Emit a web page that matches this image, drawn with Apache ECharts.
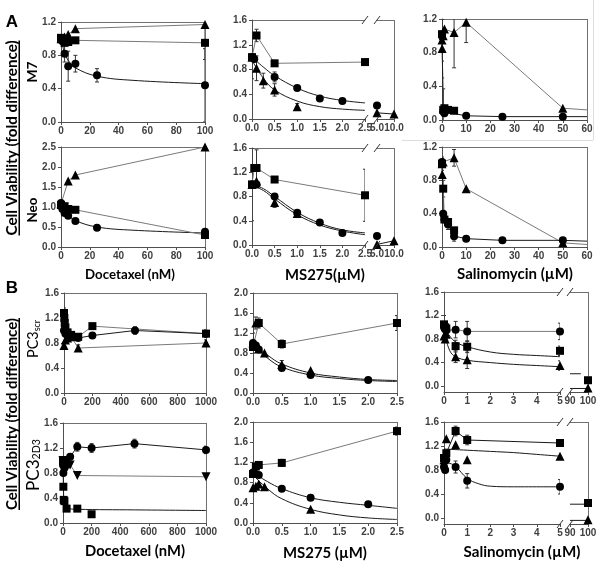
<!DOCTYPE html>
<html><head><meta charset="utf-8">
<script src="https://cdn.jsdelivr.net/npm/echarts@6/dist/echarts.min.js"></script>
<style>html,body{margin:0;padding:0;background:#fff}#c{width:600px;height:565px}</style>
</head><body><div id="c"></div><script>
// ---------- DATA ----------
// Panel A, M7 / Docetaxel
const a1Tri = [[0,1.0],[1,1.0],[2.5,1.02],[5,1.05],[10,1.12],[100,1.17]];
const a1Sq  = [[0,1.01],[1,1.0],[2.5,0.95],[5,0.96],[10,0.98],[100,0.95]];
const a1Ci  = [[0,1.0],[1,0.97],[2.5,0.82],[5,0.67],[10,0.70],[25,0.56],[100,0.44]];
const a1CiFit = [[0,1.0],[2.5,0.83],[5,0.74],[10,0.65],[25,0.55],[50,0.5],[100,0.46]];
const a1Err = [[2.5,0.82,0.1],[5,0.67,0.18],[10,0.70,0.1],[25,0.56,0.08],[100,0.44,0.44],[100,0.95,0.2]];
// Neo / Docetaxel
const a2Tri = [[0,1.08],[1,1.05],[5,1.65],[10,1.8],[100,2.5]];
const a2Sq  = [[0,1.05],[2.5,1.02],[5,0.95],[10,0.93],[100,0.3]];
const a2Ci  = [[0,1.1],[1,0.95],[2.5,0.85],[5,0.78],[10,0.65],[25,0.48],[100,0.38]];
const a2CiFit = [[0,1.05],[5,0.8],[10,0.66],[25,0.5],[50,0.42],[100,0.35]];
const a2Err = [[2.5,0.85,0.05],[5,0.78,0.05],[10,0.65,0.06],[100,0.38,0.05]];
// M7 / MS275
const a3Sq  = [[0,1.0],[0.1,1.35],[0.5,0.9],[2.5,0.92]];
const a3Ci  = [[0,1.0],[0.05,0.97],[0.5,0.68],[1.0,0.5],[1.5,0.33],[2.0,0.29]];
const a3CiFit = [[0,1.0],[0.25,0.84],[0.5,0.7],[1.0,0.5],[1.5,0.37],[2.0,0.3],[2.5,0.26]];
const a3Tri = [[0,1.0],[0.1,0.82],[0.25,0.62],[0.5,0.47],[1.0,0.2]];
const a3TriFit = [[0,0.95],[0.25,0.66],[0.5,0.47],[1.0,0.29],[1.5,0.2],[2.0,0.16],[2.5,0.14]];
const a3Err = [[0,1.0,0.35],[0.1,0.82,0.2],[0.25,0.62,0.12],[0.5,0.47,0.1],[0.1,1.35,0.1],[0.5,0.68,0.08],[1.0,0.2,0.05]];
const a3rCi = [[5,0.22]];
const a3rTri = [[5,0.1],[10,0.08]];
// Neo / MS275
const a4Sq  = [[0,1.0],[0.05,1.27],[0.1,1.27],[0.5,1.08],[2.5,0.82]];
const a4Ci  = [[0,1.0],[0.1,1.0],[0.5,0.8],[1.0,0.53],[1.5,0.37],[2.0,0.2]];
const a4CiFit = [[0,1.0],[0.25,0.93],[0.5,0.8],[1.0,0.54],[1.5,0.36],[2.0,0.25],[2.5,0.2]];
const a4Tri = [[0,1.0],[0.1,1.05],[0.5,0.7],[1.0,0.52]];
const a4TriFit = [[0,0.98],[0.25,0.9],[0.5,0.76],[1.0,0.5],[1.5,0.33],[2.0,0.23],[2.5,0.17]];
const a4Err = [[0,1.0,0.6],[0.1,1.27,0.3],[2.5,0.82,0.43],[0.5,0.7,0.08],[0.5,1.08,0.04]];
const a4rCi = [[5,0.15]];
const a4rTri = [[5,0.01],[10,0.07]];
// M7 / Salinomycin
const a5Tri = [[0,0.95],[0.05,0.85],[0.5,1.0],[1,1.08],[5,1.04],[10,1.16],[50,0.14]];
const a5TriTail = [[50,0.14],[60,0.12]];
const a5Sq  = [[0,1.02],[0.5,0.12],[1,0.14],[2.5,0.12],[5,0.11]];
const a5Ci  = [[0,1.0],[0.5,0.1],[1,0.08],[10,0.05],[25,0.04],[50,0.04]];
const a5CiTail = [[50,0.04],[60,0.04]];
const a5Err = [[5,1.04,0.42],[10,1.16,0.24],[0,0.95,0.25],[0.05,0.85,0.35],[0.5,0.12,0.25]];
// Neo / Salinomycin
const a6Tri = [[0,1.0],[0.1,0.87],[0.5,1.02],[5,1.07],[10,0.7],[50,0.05]];
const a6TriTail = [[50,0.05],[60,0.03]];
const a6Sq  = [[0,1.0],[0.5,0.7],[1,0.33],[2.5,0.3],[5,0.2]];
const a6Ci  = [[0,1.02],[0.5,0.4],[1,0.33],[2.5,0.27],[5,0.13],[10,0.1],[25,0.08],[50,0.08]];
const a6CiTail = [[50,0.08],[60,0.07]];
const a6Err = [[5,1.07,0.1],[5,0.13,0.06],[0.5,0.7,0.1],[2.5,0.27,0.06],[0,1.0,0.08]];
// Panel B, PC3scr / Docetaxel
const b1Sq  = [[0,1.28],[2.5,1.2],[5,1.12],[10,1.05],[25,0.97],[50,0.93],[100,0.9],[200,1.07],[1000,0.95]];
const b1Ci  = [[0,1.0],[5,1.0],[10,0.95],[25,0.92],[50,0.92],[100,0.88],[200,0.92],[500,1.0],[1000,0.95]];
const b1Tri = [[0,0.76],[10,0.85],[25,0.88],[50,0.9],[100,0.72],[1000,0.8]];
const b1Err = [[0,1.28,0.08],[100,0.72,0.05],[500,1.0,0.06],[1000,0.8,0.05],[1000,0.95,0.06],[10,1.1,0.1]];
// PC3 2D3 / Docetaxel
const b2Ci  = [[0,0.93],[2.5,0.8],[5,0.98],[10,0.88],[25,0.93],[50,1.06],[100,1.22],[200,1.2],[500,1.27],[1000,1.17]];
const b2Inv = [[0,1.0],[10,0.98],[25,0.97],[50,0.93],[100,0.76],[1000,0.74]];
const b2Sq  = [[0,1.0],[2.5,0.58],[5,0.37],[10,0.35],[25,0.23],[100,0.23],[200,0.14]];
const b2SqFit = [[0,1.0],[5,0.4],[10,0.3],[25,0.24],[100,0.22],[500,0.21],[1000,0.2]];
const b2Err = [[100,1.22,0.07],[200,1.2,0.07],[500,1.27,0.07],[1000,1.17,0.06],[50,1.06,0.05],[0,0.93,0.12]];
// PC3scr / MS275
const b3Sq  = [[0,0.92],[0.1,1.4],[0.5,0.98],[2.5,1.4]];
const b3Tri = [[0,1.0],[0.05,1.4],[0.1,0.88],[0.2,0.8],[0.5,0.57],[1.0,0.45]];
const b3TriFit = [[0,1.0],[0.25,0.76],[0.5,0.58],[1.0,0.4],[1.5,0.32],[2.0,0.27],[2.5,0.25]];
const b3Ci  = [[0,1.0],[0.05,0.95],[0.1,0.87],[0.5,0.5],[1.0,0.36],[2.0,0.26]];
const b3CiFit = [[0,0.97],[0.25,0.7],[0.5,0.52],[1.0,0.36],[1.5,0.29],[2.0,0.25],[2.5,0.23]];
const b3Err = [[0,1.0,0.2],[0.05,1.4,0.12],[0.1,1.4,0.1],[0.5,0.98,0.08],[2.5,1.4,0.15],[0.5,0.57,0.08]];
// PC3 2D3 / MS275
const b4Sq  = [[0,0.97],[0.05,1.12],[0.1,1.15],[0.5,1.19],[2.5,1.82]];
const b4Ci  = [[0,1.0],[0.05,0.97],[0.1,0.95],[0.5,0.68],[1.0,0.5],[2.0,0.37]];
const b4CiFit = [[0,1.0],[0.25,0.82],[0.5,0.68],[1.0,0.5],[1.5,0.41],[2.0,0.35],[2.5,0.29]];
const b4Tri = [[0,0.7],[0.05,0.73],[0.1,0.77],[0.2,0.72],[1.0,0.27]];
const b4TriFit = [[0,0.95],[0.25,0.68],[0.5,0.48],[1.0,0.27],[1.5,0.16],[2.0,0.1],[2.5,0.07]];
const b4Err = [[0.5,1.19,0.07],[2.5,1.82,0.08],[1.0,0.5,0.05],[0,1.0,0.1]];
// PC3scr / Salinomycin
const b5Ci  = [[0,1.0],[0.05,0.97],[0.1,0.95],[0.5,0.96],[1,0.93],[5,0.93]];
const b5Sq  = [[0,1.05],[0.05,1.0],[0.1,0.98],[0.5,0.68],[1,0.67],[5,0.6]];
const b5SqFit = [[0,1.0],[0.25,0.85],[0.5,0.75],[1,0.67],[2,0.58],[3,0.54],[4,0.52],[5,0.5]];
const b5Tri = [[0,0.85],[0.05,0.8],[0.1,0.88],[0.5,0.5],[1,0.45],[5,0.35]];
const b5TriFit = [[0,0.93],[0.25,0.6],[0.5,0.5],[1,0.44],[2,0.4],[3,0.37],[4,0.35],[5,0.33]];
const b5Err = [[0.5,0.96,0.14],[1,0.93,0.17],[5,0.93,0.14],[0.5,0.68,0.1],[1,0.67,0.1],[5,0.6,0.08],[0.5,0.5,0.1],[1,0.45,0.15],[5,0.35,0.08],[0,1.05,0.15]];
const b5rSq = [[100,0.1]];
const b5rSqFit = [[90,0.21],[96,0.21]];
const b5rTri = [[100,-0.03]];
const b5rTriFit = [[90,-0.04],[100,-0.04]];
// PC3 2D3 / Salinomycin
const b6Sq  = [[0,1.0],[0.1,1.08],[0.5,1.45],[1,1.3],[5,1.25]];
const b6Tri = [[0,0.97],[0.1,1.32],[0.5,1.22],[1,0.97],[5,1.03]];
const b6TriFit = [[0,1.15],[1,1.13],[2,1.11],[3,1.09],[4,1.06],[5,1.03]];
const b6Ci  = [[0,0.85],[0.05,0.8],[0.1,0.97],[0.5,0.85],[1,0.62],[5,0.52]];
const b6CiFit = [[0,0.92],[0.25,0.91],[0.5,0.86],[1,0.66],[1.5,0.57],[2,0.53],[3,0.52],[5,0.52]];
const b6Err = [[0.5,1.45,0.08],[1,1.3,0.08],[0.5,0.85,0.1],[1,0.62,0.12],[5,0.52,0.12]];
const b6rSq = [[100,0.25]];
const b6rSqFit = [[90,0.23],[99,0.23]];
const b6rTri = [[100,-0.03]];
const b6rTriFit = [[90,-0.04],[100,-0.04]];
// tick labels for broken / custom axes
const xTicksMsRight = [5, 10];
const xTicksSalRight = [90, 100];
const yTicksSalB = [0, 0.4, 0.8, 1.2, 1.6];

// ---------- LAYOUT ----------
const L = [
 {g:[61,22,144,100],  x:[0,100,20,0],   y:[0,1.2,0.4,1]},
 {g:[61,147,144,100], x:[0,100,20,0],   y:[0,2.5,0.5,1]},
 {g:[252,20,113,99],  x:[0,2.5,0.5,1],  y:[0,1.6,0.4,1], brk:'L'},
 {g:[377,20,17,99],   x:[5,10,null,1,xTicksMsRight], y:[0,1.6,0.4,1], brk:'R'},
 {g:[252,148,113,97], x:[0,2.5,0.5,1],  y:[0,1.6,0.4,1], brk:'L'},
 {g:[377,148,17,97],  x:[5,10,null,1,xTicksMsRight], y:[0,1.6,0.4,1], brk:'R'},
 {g:[442,19,145,101], x:[0,60,10,0],    y:[0,1.2,0.4,1]},
 {g:[442,147,145,100],x:[0,60,10,0],    y:[0,1.2,0.4,1]},
 {g:[64,293,142,100], x:[0,1000,200,0], y:[0,1.6,0.4,1]},
 {g:[63,423,143,100], x:[0,1000,200,0], y:[0,1.6,0.4,1]},
 {g:[253,293,144,100],x:[0,2.5,0.5,1],  y:[0,2.0,0.4,1]},
 {g:[253,422,144,101],x:[0,2.5,0.5,1],  y:[0,2.0,0.4,1]},
 {g:[444,292,116,100],x:[0,5,1,0],      y:[-0.1,1.6,null,1,yTicksSalB], brk:'L'},
 {g:[570,292,18,100], x:[90,100,null,0,xTicksSalRight], y:[-0.1,1.6,null,1,yTicksSalB], brk:'R'},
 {g:[444,422,116,102],x:[0,5,1,0],      y:[-0.1,1.6,null,1,yTicksSalB], brk:'L'},
 {g:[570,422,18,102], x:[90,100,null,0,xTicksSalRight], y:[-0.1,1.6,null,1,yTicksSalB], brk:'R'}
];
const AXC = '#505050', FRC = '#707070', LNC = '#7a7a7a', FITC = '#1a1a1a';
const tickFont = {fontFamily:'Liberation Sans', fontWeight:'bold', fontSize:10, color:'#404040'};

const grids = [], xAxes = [], yAxes = [], GR = [];
L.forEach((p,i)=>{
  const [l,t,w,h] = p.g;
  grids.push({left:l, top:t, width:w, height:h, outerBoundsMode:'none', containLabel:false});
  const mk = (spec, isY)=>{
    const [min,max,interval,dec,custom] = spec;
    const o = {gridIndex:i, type:'value', min, max,
      axisLine:{show:true, onZero:false, lineStyle:{color:AXC, width:1}},
      axisTick:{show:true, length:3, lineStyle:{color:AXC}},
      splitLine:{show:false},
      axisLabel:Object.assign({}, tickFont, {margin:isY?5:4, interval:0, showMinLabel:true, showMaxLabel:true, hideOverlap:false,
        formatter:v=>(+v).toFixed(dec)})};
    if (interval!=null) o.interval = interval;
    if (custom){ o.axisLabel.customValues = custom; o.axisTick.customValues = custom; }
    if (isY && p.brk==='R') o.show = false;
    return o;
  };
  xAxes.push(mk(p.x,false));
  yAxes.push(mk(p.y,true));
  // frame lines (top & right)
  GR.push({type:'line', shape:{x1:l, y1:t+0.5, x2:l+w, y2:t+0.5}, style:{stroke:FRC, lineWidth:1}, silent:true});
  if (p.brk!=='L') GR.push({type:'line', shape:{x1:l+w+0.5, y1:t, x2:l+w+0.5, y2:t+h}, style:{stroke:FRC, lineWidth:1}, silent:true});
  const slash = (x,y)=>GR.push({type:'line', shape:{x1:x-3, y1:y+4, x2:x+3, y2:y-4}, style:{stroke:'#333', lineWidth:1}, silent:true, z:10});
  if (p.brk==='L'){ slash(l+w, t); slash(l+w, t+h); }
  if (p.brk==='R'){ slash(l, t); slash(l, t+h); }
});

// ---------- SERIES ----------
const S = [];
const SYM = {ci:['circle',8,0], sq:['rect',8,0], tri:['triangle',9,0], inv:['triangle',9,180]};
function ln(i, data, sym, color, extra){
  const o = {type:'line', xAxisIndex:i, yAxisIndex:i, data, animation:false, z:3,
    lineStyle:{color:color||LNC, width:1}, itemStyle:{color:'#000'}, clip:true};
  if (sym){ o.symbol = SYM[sym][0]; o.symbolSize = SYM[sym][1]; o.symbolRotate = SYM[sym][2]; o.showSymbol = true; }
  else { o.symbol = 'none'; o.showSymbol = false; }
  S.push(Object.assign(o, extra||{}));
}
function sc(i, data, sym, extra){
  S.push(Object.assign({type:'scatter', xAxisIndex:i, yAxisIndex:i, data, animation:false, z:4,
    symbol:SYM[sym][0], symbolSize:SYM[sym][1], symbolRotate:SYM[sym][2], itemStyle:{color:'#000', opacity:1}}, extra||{}));
}
function fit(i, data){ ln(i, data, null, FITC, {smooth:0.4, z:2}); }
function err(i, data){
  S.push({type:'custom', xAxisIndex:i, yAxisIndex:i, data, animation:false, z:1, clip:true,
    encode:{x:0, y:1},
    renderItem:(params, api)=>{
      const x = api.value(0), y = api.value(1), e = api.value(2);
      const p1 = api.coord([x, y+e]), p2 = api.coord([x, y-e]);
      const st = {stroke:'#333', lineWidth:1};
      return {type:'group', children:[
        {type:'line', shape:{x1:p1[0], y1:p1[1], x2:p2[0], y2:p2[1]}, style:st},
        {type:'line', shape:{x1:p1[0]-2, y1:p1[1], x2:p1[0]+2, y2:p1[1]}, style:st},
        {type:'line', shape:{x1:p2[0]-2, y1:p2[1], x2:p2[0]+2, y2:p2[1]}, style:st}
      ]};
    }});
}
// A1
err(0,a1Err); ln(0,a1Tri,'tri'); ln(0,a1Sq,'sq'); fit(0,a1CiFit); sc(0,a1Ci,'ci');
// A2
err(1,a2Err); ln(1,a2Tri,'tri'); ln(1,a2Sq,'sq'); fit(1,a2CiFit); sc(1,a2Ci,'ci');
// A3
err(2,a3Err); ln(2,a3Sq,'sq'); fit(2,a3CiFit); sc(2,a3Ci,'ci'); fit(2,a3TriFit); sc(2,a3Tri,'tri');
sc(3,a3rCi,'ci',{clip:false}); ln(3,a3rTri,'tri',FITC,{clip:false});
// A4
err(4,a4Err); ln(4,a4Sq,'sq'); fit(4,a4CiFit); sc(4,a4Ci,'ci'); fit(4,a4TriFit); sc(4,a4Tri,'tri');
sc(5,a4rCi,'ci',{clip:false}); ln(5,a4rTri,'tri',FITC,{clip:false});
// A5
err(6,a5Err); ln(6,a5Tri,'tri'); ln(6,a5TriTail,null); ln(6,a5Sq,'sq'); ln(6,a5Ci,'ci',FITC); ln(6,a5CiTail,null,FITC);
// A6
err(7,a6Err); ln(7,a6Tri,'tri'); ln(7,a6TriTail,null); ln(7,a6Sq,'sq'); ln(7,a6Ci,'ci',FITC); ln(7,a6CiTail,null,FITC);
// B1
err(8,b1Err); ln(8,b1Sq,'sq'); ln(8,b1Tri,'tri'); ln(8,b1Ci,'ci',FITC);
// B2
err(9,b2Err); ln(9,b2Ci,'ci',FITC); ln(9,b2Inv,'inv'); fit(9,b2SqFit); sc(9,b2Sq,'sq');
// B3
err(10,b3Err); ln(10,b3Sq,'sq'); fit(10,b3TriFit); sc(10,b3Tri,'tri'); fit(10,b3CiFit); sc(10,b3Ci,'ci');
// B4
err(11,b4Err); ln(11,b4Sq,'sq'); fit(11,b4CiFit); sc(11,b4Ci,'ci'); fit(11,b4TriFit); sc(11,b4Tri,'tri');
// B5
err(12,b5Err); ln(12,b5Ci,'ci'); fit(12,b5SqFit); sc(12,b5Sq,'sq'); fit(12,b5TriFit); sc(12,b5Tri,'tri');
ln(13,b5rSqFit,null,FITC,{clip:false}); sc(13,b5rSq,'sq',{clip:false}); ln(13,b5rTriFit,null,FITC,{clip:false}); sc(13,b5rTri,'tri',{clip:false});
// B6
err(14,b6Err); ln(14,b6Sq,'sq',FITC); fit(14,b6TriFit); sc(14,b6Tri,'tri'); fit(14,b6CiFit); sc(14,b6Ci,'ci');
ln(15,b6rSqFit,null,FITC,{clip:false}); sc(15,b6rSq,'sq',{clip:false}); ln(15,b6rTriFit,null,FITC,{clip:false}); sc(15,b6rTri,'tri',{clip:false});

// ---------- TEXT ----------
const cv = document.createElement('canvas').getContext('2d');
function tw(text, font){ cv.font = font; return cv.measureText(text).width; }
const TF = 'Lato';
function fitFs(text, weight, fam, target){ return 20*target/tw(text, weight+' 20px '+fam); }
function hTitle(text, cx, cy, target){
  const fs = fitFs(text,'bold',TF,target);
  GR.push({type:'text', x:cx, y:cy, style:{text, fontFamily:TF, fontWeight:'bold', fontSize:fs, fill:'#000',
    align:'center', verticalAlign:'middle', textAlign:'center', textVerticalAlign:'middle'}});
}
function vLabel(cx, cy, parts, totalLen, underline){
  const base = fitFs(parts.map(p=>p.t).join(''), parts[0].weight, TF, totalLen);
  let W = 0; const ws = parts.map(p=>{ const w = tw(p.t, p.weight+' '+(base*p.rel)+'px '+TF); W += w; return w; });
  const k = totalLen / W;
  let x = -totalLen/2; const ch = [];
  parts.forEach((p,j)=>{
    ch.push({type:'text', x, y:(p.dy||0), style:{text:p.t, fontFamily:TF, fontWeight:p.weight, fontSize:base*p.rel*k, fill:'#000',
      align:'left', verticalAlign:'middle', textAlign:'left', textVerticalAlign:'middle'}});
    x += ws[j]*k;
  });
  if (underline) ch.push({type:'rect', shape:{x:-totalLen/2, y:underline, width:totalLen, height:1.5}, style:{fill:'#000'}});
  GR.push({type:'group', x:cx, y:cy, rotation:Math.PI/2, children:ch});
}
GR.push({type:'text', x:12, y:22, style:{text:'A', fontFamily:'Liberation Sans', fontWeight:'bold', fontSize:17, fill:'#000', align:'center', verticalAlign:'middle', textAlign:'center', textVerticalAlign:'middle'}});
GR.push({type:'text', x:12, y:288, style:{text:'B', fontFamily:'Liberation Sans', fontWeight:'bold', fontSize:17, fill:'#000', align:'center', verticalAlign:'middle', textAlign:'center', textVerticalAlign:'middle'}});
vLabel(12, 138, [{t:'Cell Viability (fold difference)', rel:1, weight:'bold'}], 195, 6.5);
vLabel(12, 414, [{t:'Cell Viability (fold difference)', rel:1, weight:'bold'}], 192, 6.5);
vLabel(33, 72, [{t:'M7', rel:1, weight:'bold'}], 21);
vLabel(33, 210, [{t:'Neo', rel:1, weight:'bold'}], 25);
vLabel(33, 339, [{t:'PC3', rel:1, weight:'normal'},{t:'scr', rel:0.62, weight:'normal', dy:4}], 38);
vLabel(33, 465, [{t:'PC3', rel:1, weight:'normal'},{t:'2D3', rel:0.62, weight:'normal', dy:4}], 52);
hTitle('Docetaxel (nM)', 130, 275, 90);
hTitle('MS275(\u00b5M)', 325, 275, 80);
hTitle('Salinomycin (\u00b5M)', 515, 274, 116);
hTitle('Docetaxel (nM)', 135, 551, 100);
hTitle('MS275 (\u00b5M)', 325, 553, 84);
hTitle('Salinomycin (\u00b5M)', 522, 552, 117);
// faint frame around top-right panel
GR.push({type:'line', shape:{x1:402, y1:140.5, x2:593, y2:140.5}, style:{stroke:'#dcdcdc', lineWidth:1}, silent:true});
GR.push({type:'line', shape:{x1:593.5, y1:0, x2:593.5, y2:140}, style:{stroke:'#dcdcdc', lineWidth:1}, silent:true});

const chart = echarts.init(document.getElementById('c'), null, {renderer:'canvas'});
chart.setOption({animation:false, backgroundColor:'#fff', grid:grids, xAxis:xAxes, yAxis:yAxes, series:S, graphic:{elements:GR}});
</script></body></html>
